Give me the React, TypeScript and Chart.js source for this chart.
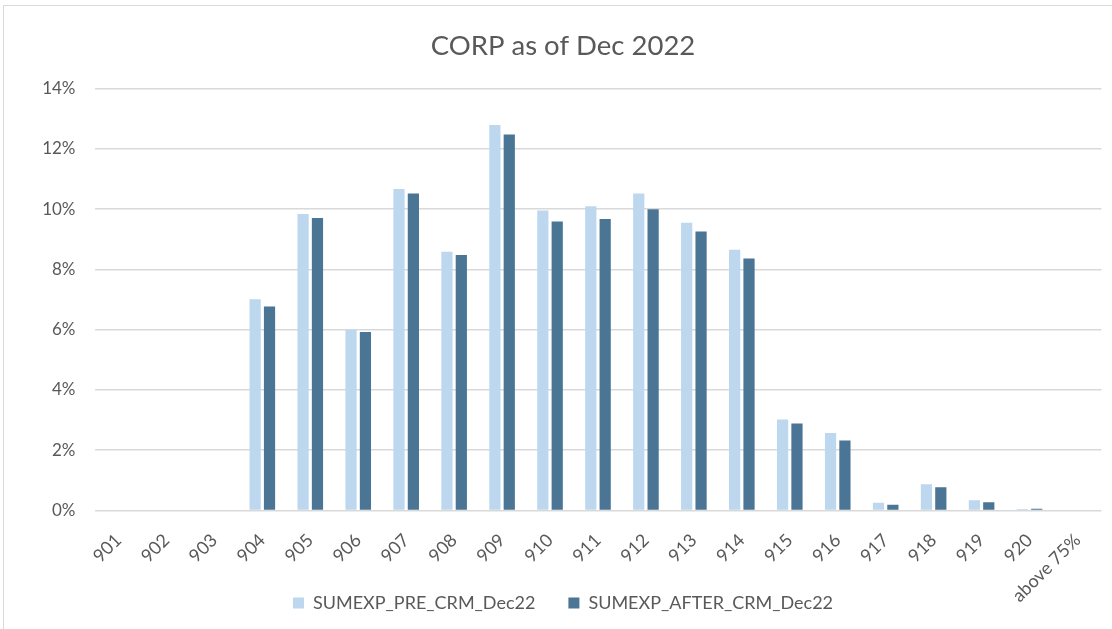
import React, { useEffect, useRef } from "react";
import { Chart, registerables } from "chart.js";

Chart.register(...registerables);

const categories = [
  "901", "902", "903", "904", "905", "906", "907", "908", "909", "910",
  "911", "912", "913", "914", "915", "916", "917", "918", "919", "920", "above 75%",
];
const preCrm = [
  0, 0, 0, 7.01, 9.84, 6.0, 10.67, 8.58, 12.79, 9.95,
  10.09, 10.52, 9.55, 8.65, 3.02, 2.57, 0.26, 0.87, 0.34, 0.05, 0,
];
const afterCrm = [
  0, 0, 0, 6.77, 9.7, 5.92, 10.52, 8.48, 12.47, 9.59,
  9.67, 9.99, 9.26, 8.36, 2.89, 2.32, 0.19, 0.77, 0.27, 0.06, 0,
];
const yTicksMax = 14;
const yTickStep = 2;
const seriesNames = ["SUMEXP_PRE_CRM_Dec22", "SUMEXP_AFTER_CRM_Dec22"];
const titleText = "CORP as of Dec 2022";

const FONT = "Lato";
const TEXT = "#595959";

export default function App() {
  const ref = useRef<HTMLCanvasElement | null>(null);
  useEffect(() => {
    if (!ref.current) return;
    const chart = new Chart(ref.current, {
      type: "bar",
      data: {
        labels: categories,
        datasets: [
          {
            label: seriesNames[0],
            data: preCrm,
            backgroundColor: "#BDD7EE",
            borderWidth: 0,
            barPercentage: 0.78,
            categoryPercentage: 0.6,
          },
          {
            label: seriesNames[1],
            data: afterCrm,
            backgroundColor: "#4A7594",
            borderWidth: 0,
            barPercentage: 0.78,
            categoryPercentage: 0.6,
          },
        ],
      },
      options: {
        responsive: false,
        animation: false,
        layout: { padding: { left: 24.5, right: 10.5, top: 0, bottom: 7 } },
        plugins: {
          title: {
            display: true,
            text: titleText,
            color: TEXT,
            font: { family: FONT, size: 27.5, weight: "normal", lineHeight: 1.2 },
            padding: { top: 29.3, bottom: 26.2 },
          },
          legend: {
            position: "bottom",
            labels: {
              color: TEXT,
              font: { family: FONT, size: 18 },
              boxWidth: 11,
              boxHeight: 11,
              padding: 33,
            },
          },
          tooltip: { enabled: false },
        },
        scales: {
          x: {
            grid: { display: false, drawTicks: false },
            border: { display: false },
            ticks: {
              color: TEXT,
              font: { family: FONT, size: 18 },
              minRotation: 45,
              maxRotation: 45,
              padding: 19,
              autoSkip: false,
            },
            afterFit: (scale: any) => {
              scale.height = 50.5;
              scale._computeLabelArea = () => undefined;
            },
          },
          y: {
            min: 0,
            max: yTicksMax,
            grid: { color: "#D9D9D9", lineWidth: 1.5, drawTicks: false },
            border: { display: false },
            ticks: {
              stepSize: yTickStep,
              color: TEXT,
              font: { family: FONT, size: 17 },
              padding: 19,
              callback: (v: any) => `${v}%`,
            },
            afterFit: (scale: any) => {
              scale.width = 70;
            },
          },
        },
      },
    });
    return () => chart.destroy();
  }, []);
  return (
    <div style={{ position: "absolute", left: 0, top: 0, width: 1112, height: 629, background: "#fff", overflow: "hidden" }}>
      <div style={{ position: "absolute", left: 3, top: 5, width: 1200, height: 700, border: "1px solid #D9D9D9" }} />
      <canvas ref={ref} width={1112} height={629} style={{ position: "absolute", left: 0, top: 0 }} />
    </div>
  );
}
